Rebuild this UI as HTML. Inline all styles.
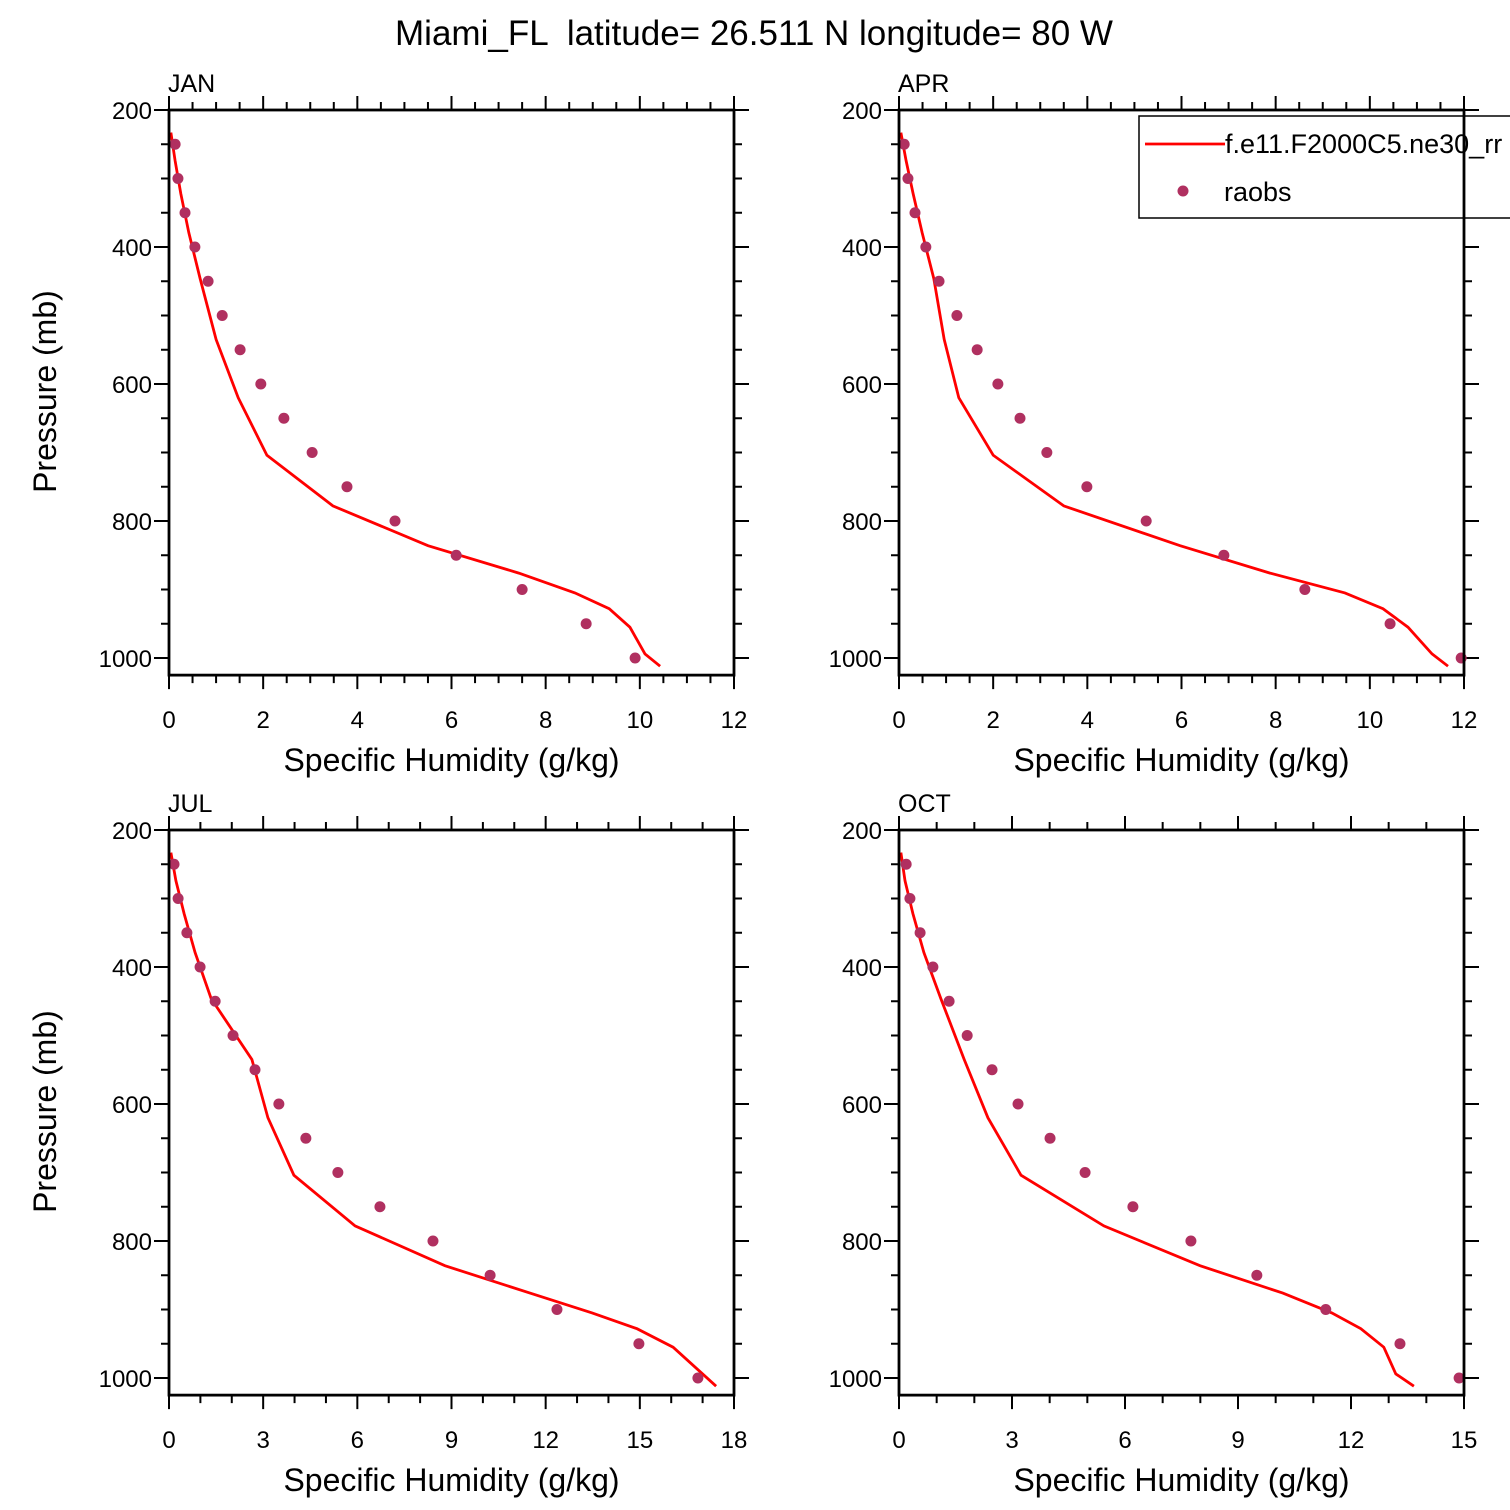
<!DOCTYPE html>
<html><head><meta charset="utf-8">
<style>
html,body{margin:0;padding:0;background:#fff;}
svg{display:block;font-family:"Liberation Sans",Arial,sans-serif;}
</style></head>
<body>
<svg id="chart" width="1510" height="1510" viewBox="0 0 1510 1510" xmlns="http://www.w3.org/2000/svg">
<rect width="1510" height="1510" fill="#fff"/>
<text x="754" y="45" font-size="35" text-anchor="middle" xml:space="preserve" style="white-space:pre">Miami_FL  latitude= 26.511 N longitude= 80 W</text>
</svg>
<script>
const obsP = [250,300,350,400,450,500,550,600,650,700,750,800,850,900,950,1000];
const modelP = [233,274,322,379,446,535,620,704,778,836,876,905,928,955,994,1012];
const janObs = [0.13,0.19,0.34,0.55,0.83,1.13,1.51,1.95,2.44,3.04,3.78,4.8,6.1,7.5,8.86,9.9];
const janModel = [0.04,0.13,0.25,0.42,0.66,1.0,1.47,2.08,3.48,5.5,7.43,8.62,9.35,9.79,10.11,10.43];
const aprObs = [0.11,0.19,0.34,0.57,0.85,1.23,1.66,2.1,2.57,3.14,3.99,5.25,6.9,8.62,10.43,11.94];
const aprModel = [0.04,0.15,0.30,0.49,0.74,0.96,1.27,2.0,3.5,5.97,7.88,9.47,10.28,10.81,11.32,11.66];
const julObs = [0.16,0.29,0.57,0.99,1.47,2.04,2.74,3.5,4.36,5.38,6.72,8.41,10.23,12.36,14.97,16.85];
const julModel = [0.06,0.22,0.48,0.83,1.34,2.64,3.15,3.98,5.93,8.79,11.5,13.48,14.91,16.06,17.0,17.43];
const octObs = [0.19,0.29,0.56,0.9,1.33,1.81,2.47,3.16,4.01,4.94,6.21,7.75,9.5,11.33,13.3,14.87];
const octModel = [0.05,0.16,0.37,0.66,1.11,1.73,2.36,3.24,5.44,7.99,10.19,11.49,12.26,12.87,13.19,13.67];
const janTicks = [0,2,4,6,8,10,12];
const aprTicks = [0,2,4,6,8,10,12];
const julTicks = [0,3,6,9,12,15,18];
const octTicks = [0,3,6,9,12,15];
const yTicks = [200,400,600,800,1000];

const NS="http://www.w3.org/2000/svg";
const svg=document.getElementById('chart');
function mk(tag,attrs,parent){const e=document.createElementNS(NS,tag);for(const k in attrs)e.setAttribute(k,attrs[k]);(parent||svg).appendChild(e);return e;}

function panel(name,label,x0,y0,xmax,xTicks,minorStep,obs,model){
  const W=565, pTop=200, pBot=1025, pxPerMb=0.685;
  const H=(pBot-pTop)*pxPerMb;
  const sx=v=>x0+v/xmax*W;
  const sy=p=>y0+(p-pTop)*pxPerMb;
  const g=mk('g',{});
  
  
  const t=mk('text',{x:x0-1,y:y0-18,'font-size':25},g);t.textContent=label;
  
  
  const tk=mk('g',{stroke:'#000','stroke-width':2},g);
  
  
  for(let v=0;v<=xmax+1e-9;v+=minorStep){
    const major=xTicks.some(m=>Math.abs(m-v)<1e-6);const L=major?14:8;
    mk('line',{x1:sx(v),x2:sx(v),y1:y0,y2:y0-L},tk);
    mk('line',{x1:sx(v),x2:sx(v),y1:y0+H,y2:y0+H+L},tk);
  }
  for(let p=200;p<=1000;p+=50){
    const major=p%200===0;const L=major?15:8;
    mk('line',{x1:x0,x2:x0-L,y1:sy(p),y2:sy(p)},tk);
    mk('line',{x1:x0+W,x2:x0+W+L,y1:sy(p),y2:sy(p)},tk);
  }
  xTicks.forEach(v=>{const e=mk('text',{x:sx(v),y:y0+H+53,'font-size':24,'text-anchor':'middle'},g);e.textContent=v;
    
    });
  yTicks.forEach(p=>{const e=mk('text',{x:x0-17,y:sy(p)+9,'font-size':24,'text-anchor':'end'},g);e.textContent=p;
    
    });
  const xt=mk('text',{x:x0+W/2,y:y0+H+96,'font-size':32,'text-anchor':'middle'},g);xt.textContent='Specific Humidity (g/kg)';
  
  
  if(x0<500){const yt=mk('text',{x:0,y:0,'font-size':32,'text-anchor':'middle',transform:`translate(${x0-113},${y0+H/2-1}) rotate(-90)`},g);yt.textContent='Pressure (mb)';
    
    }
  const pts=model.map((v,i)=>sx(v).toFixed(1)+','+sy(modelP[i]).toFixed(1)).join(' ');
  const ln=mk('polyline',{points:pts,fill:'none',stroke:'#ff0000','stroke-width':2.8},g);
  
  
  obs.forEach((v,i)=>{const c=mk('circle',{cx:sx(v),cy:sy(obsP[i]),r:5.5,fill:'#b03060'},g);
    
    });
  const fr=mk('rect',{x:x0,y:y0,width:W,height:H,fill:'none',stroke:'#000','stroke-width':2.8},g);
  
  
}
panel('jan','JAN',169,110,12,janTicks,0.5,janObs,janModel);
panel('apr','APR',899,110,12,aprTicks,0.5,aprObs,aprModel);
panel('jul','JUL',169,830,18,julTicks,1,julObs,julModel);
panel('oct','OCT',899,830,15,octTicks,1,octObs,octModel);

const lg=mk('g',{});


mk('rect',{x:1139,y:116,width:400,height:102,fill:'#fff',stroke:'#000','stroke-width':1.5},lg);
mk('line',{x1:1145,x2:1225,y1:144,y2:144,stroke:'#ff0000','stroke-width':2.8},lg);
const l1=mk('text',{x:1225,y:153,'font-size':27},lg);l1.textContent='f.e11.F2000C5.ne30_rr';


mk('circle',{cx:1183,cy:191,r:5.5,fill:'#b03060'},lg);
const l2=mk('text',{x:1224,y:201,'font-size':27},lg);l2.textContent='raobs';


mk('line',{x1:1464,x2:1464,y1:116,y2:218,stroke:'#000','stroke-width':2.8},lg);
</script>
</body></html>
